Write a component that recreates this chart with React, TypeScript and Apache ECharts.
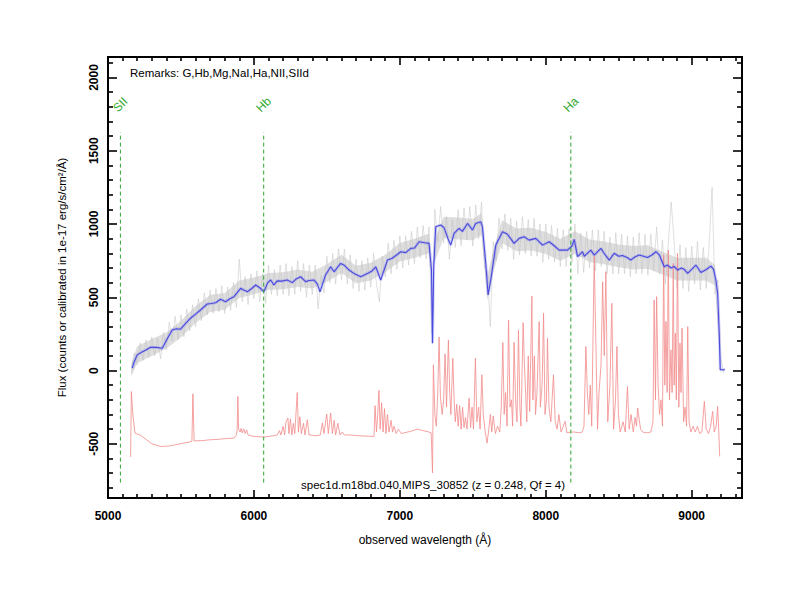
import React, { useEffect, useRef } from "react";
import * as echarts from "echarts";

const X_RANGE = [5000, 9345];
const Y_RANGE = [-870, 2140];
const xTickLabels = [5000, 6000, 7000, 8000, 9000];
const yTickLabels = [-500, 0, 500, 1000, 1500, 2000];

const lineMarkNames = ["SII", "Hb", "Ha"];
const lineMarkWaves = [5085, 6067, 8172];
const markLineSpan = [-765, 1626];
const markLabelFlux = 1815;

const remarks = "Remarks: G,Hb,Mg,NaI,Ha,NII,SIId";
const specTitle = "spec1d.m18bd.040.MIPS_30852 (z = 0.248, Qf = 4)";
const xName = "observed wavelength (Å)";
const yName = "Flux (counts or calibrated in 1e-17 erg/s/cm²/Å)";

// raw (noisy) spectrum, sampled every 20 Å from 5160 Å
const grayStart = 5160;
const grayStep = 20;
const grayFlux = [
  -20, 120, 40, 190, 70, 210, 90, 230, 100, 220,
  80, 260, 140, 330, 200, 370, 210, 380, 230, 420,
  270, 450, 300, 490, 340, 530, 380, 550, 390, 560,
  400, 580, 390, 570, 410, 600, 430, 760, 470, 640,
  450, 660, 490, 680, 470, 660, 460, 720, 520, 690,
  510, 720, 520, 730, 510, 710, 520, 750, 540, 730,
  500, 720, 520, 720, 420, 650, 530, 780, 600, 800,
  590, 830, 620, 830, 590, 790, 560, 760, 540, 750,
  550, 770, 570, 800, 590, 470, 780, 640, 870, 660,
  890, 690, 920, 700, 920, 720, 950, 730, 980, 770,
  990, 760, 980, 250, 1100, 880, 1120, 870, 1050, 760,
  1030, 840, 1100, 850, 1110, 890, 1120, 850, 1130, 900,
  1150, 700, 680, 300, 880, 750, 1040, 830, 1070, 820,
  1040, 760, 1020, 790, 1050, 800, 1030, 780, 1040, 780,
  1000, 740, 1000, 760, 990, 740, 970, 710, 960, 710,
  970, 740, 1000, 660, 940, 670, 950, 700, 960, 680,
  960, 710, 950, 660, 910, 660, 940, 660, 930, 660,
  920, 640, 910, 660, 940, 660, 930, 650, 930, 680,
  980, 660, 890, 590, 870, 1150, 880, 560, 860, 560,
  840, 540, 850, 590, 880, 550, 840, 560, 870, 1250,
  520, 620, 80, -20,
];

// dense core of the raw spectrum's noise band
const bandWave = [
  5160, 5200, 5300, 5400, 5500, 5600, 5700, 5800, 5900, 6000,
  6100, 6200, 6300, 6400, 6500, 6600, 6700, 6800, 6900, 7000,
  7100, 7200, 7215, 7224, 7235, 7300, 7400, 7500, 7560, 7600,
  7640, 7700, 7800, 7900, 8000, 8100, 8200, 8300, 8400, 8500,
  8600, 8700, 8800, 8900, 9000, 9100, 9160, 9200,
];
const bandLow = [
  -40, 50, 100, 150, 225, 325, 400, 415, 495, 520,
  550, 555, 570, 560, 605, 665, 595, 615, 670, 745,
  770, 800, 620, 120, 730, 905, 895, 890, 925, 480,
  670, 870, 815, 820, 795, 750, 795, 740, 725, 705,
  690, 695, 655, 615, 615, 615, 580, -30,
];
const bandHigh = [
  50, 165, 215, 260, 340, 440, 515, 530, 615, 635,
  665, 670, 690, 675, 725, 790, 715, 735, 790, 870,
  900, 935, 800, 300, 880, 1050, 1045, 1035, 1075, 650,
  820, 1025, 970, 975, 945, 900, 950, 895, 880, 860,
  850, 855, 810, 770, 770, 770, 720, 60,
];

// smoothed spectrum [wavelength, flux]
const blueSpec: [number, number][] = [
  [5166, 16], [5180, 60], [5200, 107], [5230, 125], [5260, 140], [5291, 159],
  [5330, 158], [5372, 152], [5405, 215], [5440, 277], [5470, 285], [5497, 282],
  [5530, 320], [5566, 357], [5600, 385], [5634, 413], [5680, 454], [5710, 458],
  [5737, 463], [5772, 486], [5806, 470], [5835, 490], [5863, 504], [5909, 561],
  [5930, 550], [5955, 538], [5985, 560], [6012, 584], [6040, 565], [6068, 538],
  [6095, 600], [6115, 618], [6137, 584], [6160, 612], [6190, 610], [6229, 618],
  [6263, 600], [6290, 625], [6320, 640], [6354, 607], [6380, 615], [6412, 618],
  [6435, 590], [6453, 538], [6490, 650], [6526, 708], [6549, 674], [6594, 731],
  [6620, 718], [6652, 686], [6690, 660], [6732, 640], [6778, 663], [6810, 680],
  [6835, 708], [6869, 618], [6915, 754], [6945, 765], [6980, 790], [7006, 811],
  [7040, 805], [7075, 834], [7100, 836], [7132, 879], [7170, 872], [7200, 868],
  [7217, 686], [7224, 187], [7232, 700], [7246, 981], [7280, 993], [7303, 975],
  [7330, 900], [7349, 856], [7372, 936], [7406, 970], [7429, 950], [7464, 1004],
  [7498, 959], [7520, 1004], [7555, 1015], [7566, 981], [7589, 731], [7605, 516],
  [7623, 618], [7658, 856], [7704, 947], [7738, 930], [7783, 868], [7818, 902],
  [7852, 913], [7886, 890], [7932, 902], [7978, 856], [8024, 879], [8060, 850],
  [8092, 822], [8149, 822], [8180, 850], [8195, 895], [8218, 777], [8252, 811],
  [8264, 780], [8309, 822], [8332, 788], [8378, 834], [8400, 800], [8435, 754],
  [8469, 800], [8500, 780], [8526, 785], [8560, 770], [8583, 754], [8610, 775],
  [8641, 788], [8670, 780], [8698, 772], [8730, 790], [8755, 811], [8778, 790],
  [8812, 708], [8835, 720], [8858, 700], [8880, 710], [8904, 686], [8930, 700],
  [8950, 690], [8972, 663], [9000, 690], [9029, 720], [9063, 669], [9100, 690],
  [9132, 713], [9150, 690], [9166, 618], [9178, 527], [9189, 255], [9196, 5],
  [9228, 5],
];

// sky / error spectrum [wavelength, flux]
const redSpec: [number, number][] = [
  [5155, -590], [5160, -143], [5170, -300], [5185, -427], [5220, -440], [5260, -470],
  [5300, -500], [5360, -518], [5420, -515], [5460, -507], [5520, -495], [5575, -484],
  [5582, -159], [5590, -480], [5650, -478], [5693, -473], [5750, -470], [5800, -465],
  [5863, -461], [5880, -440], [5885, -405], [5890, -177], [5895, -400], [5905, -420],
  [5912, -395], [5920, -425], [5930, -398], [5940, -430], [5950, -405], [5960, -440],
  [6000, -450], [6069, -454], [6137, -445], [6160, -440], [6175, -410], [6185, -440],
  [6200, -380], [6210, -440], [6220, -350], [6233, -324], [6240, -430], [6250, -330],
  [6260, -440], [6270, -360], [6280, -430], [6297, -150], [6305, -420], [6315, -315],
  [6325, -430], [6340, -360], [6350, -440], [6366, -336], [6378, -440], [6389, -440],
  [6420, -445], [6455, -440], [6469, -358], [6480, -430], [6499, -297], [6510, -430],
  [6526, -290], [6538, -430], [6550, -340], [6560, -440], [6575, -360], [6590, -440],
  [6605, -420], [6620, -440], [6663, -440], [6720, -445], [6780, -448], [6823, -450],
  [6830, -240], [6840, -420], [6848, -300], [6857, -136], [6865, -400], [6875, -220],
  [6885, -420], [6895, -260], [6905, -430], [6915, -300], [6926, -420], [6940, -340],
  [6950, -420], [6960, -380], [6975, -430], [6990, -400], [7010, -430], [7029, -425],
  [7075, -415], [7120, -400], [7160, -410], [7200, -420], [7215, -425], [7224, -699],
  [7230, 39], [7240, -300], [7250, -380], [7260, -150], [7269, 228], [7278, -177],
  [7290, -300], [7300, -200], [7310, 114], [7320, -250], [7333, 209], [7342, -152],
  [7350, -300], [7363, 84], [7372, -200], [7380, -350], [7390, -230], [7400, -380],
  [7410, -240], [7420, -400], [7430, -250], [7440, -390], [7450, -320], [7460, -400],
  [7475, -189], [7485, -390], [7495, -250], [7505, -400], [7518, 84], [7528, -350],
  [7540, -250], [7550, -400], [7562, -29], [7572, -300], [7585, -420], [7598, -495],
  [7610, -400], [7620, -300], [7630, -420], [7640, -310], [7655, -430], [7670, -380],
  [7685, -420], [7695, -250], [7706, 191], [7715, -300], [7725, -150], [7735, -380],
  [7745, 345], [7755, -250], [7765, -200], [7773, -380], [7783, 193], [7793, -200],
  [7803, -350], [7813, 277], [7823, -250], [7830, -380], [7845, 327], [7853, 66],
  [7860, -100], [7870, -350], [7880, 100], [7890, -280], [7905, 509], [7912, -200],
  [7922, 100], [7930, -300], [7940, -150], [7955, 334], [7963, -250], [7975, -100],
  [7985, 391], [7995, -300], [8005, -200], [8012, 220], [8022, -250], [8035, -350],
  [8053, -29], [8065, -350], [8078, -400], [8090, -300], [8105, -420], [8120, -380],
  [8133, -347], [8145, -425], [8170, -420], [8200, -420], [8230, -425], [8250, -420],
  [8262, -380], [8275, 164], [8285, -150], [8295, -300], [8305, -100], [8315, -380],
  [8332, 780], [8344, 164], [8355, -400], [8365, -150], [8379, 39], [8390, 606],
  [8401, 103], [8412, 675], [8425, -350], [8440, -100], [8453, 459], [8465, -400],
  [8478, -200], [8488, 164], [8498, -300], [8510, -420], [8530, -350], [8545, -420],
  [8560, -109], [8572, -400], [8585, -300], [8600, -420], [8612, -320], [8622, -380],
  [8630, -256], [8640, -330], [8650, -400], [8665, -420], [8690, -425], [8720, -420],
  [8735, -350], [8743, 482], [8752, -200], [8760, 505], [8770, -100], [8780, -300],
  [8790, -200], [8800, -380], [8808, 790], [8816, -100], [8824, 334], [8832, -150],
  [8840, 822], [8848, -200], [8858, 141], [8866, -150], [8874, 731], [8880, -100],
  [8888, 255], [8895, -200], [8903, 800], [8912, -250], [8920, 187], [8927, -150],
  [8934, 289], [8945, -350], [8955, -250], [8965, -380], [8973, 300], [8982, -350],
  [8995, -420], [9010, -380], [9025, -420], [9040, -380], [9055, -430], [9070, -420],
  [9087, -211], [9100, -400], [9115, -430], [9130, -380], [9144, -279], [9155, -420],
  [9168, -380], [9178, -245], [9186, -420], [9192, -586],
];

const FONT = '"Liberation Sans", Arial, Helvetica, sans-serif';
const GREEN = "#2ea82e";

function minorTicks(from: number, to: number, step: number, skip: number) {
  const out: number[] = [];
  for (let v = from; v <= to; v += step) if (v % skip !== 0) out.push(v);
  return out;
}

const plainNumber = (v: number) => String(v);

function makeX(position: string, ticks: number[], len: number, withLabel: boolean) {
  return {
    type: "value",
    min: X_RANGE[0],
    max: X_RANGE[1],
    position,
    axisLine: { show: false, onZero: false },
    splitLine: { show: false },
    axisTick: {
      show: true,
      inside: true,
      length: len,
      customValues: ticks,
      lineStyle: { color: "#000", width: 1.6 },
    },
    axisLabel: withLabel
      ? {
          show: true,
          customValues: ticks,
          formatter: plainNumber,
          fontFamily: FONT,
          fontWeight: "bold",
          fontSize: 12,
          color: "#000",
          margin: 12,
        }
      : { show: false },
    ...(withLabel
      ? {
          name: xName,
          nameLocation: "middle",
          nameGap: 36,
          nameTextStyle: { fontFamily: FONT, fontSize: 12, color: "#000" },
        }
      : {}),
  };
}

function makeY(position: string, ticks: number[], len: number, withLabel: boolean) {
  return {
    type: "value",
    min: Y_RANGE[0],
    max: Y_RANGE[1],
    position,
    axisLine: { show: false, onZero: false },
    splitLine: { show: false },
    axisTick: {
      show: true,
      inside: true,
      length: len,
      customValues: ticks,
      lineStyle: { color: "#000", width: 1.6 },
    },
    axisLabel: withLabel
      ? {
          show: true,
          customValues: ticks,
          formatter: plainNumber,
          rotate: 90,
          fontFamily: FONT,
          fontWeight: "bold",
          fontSize: 12,
          color: "#000",
          margin: 8,
        }
      : { show: false },
    ...(withLabel
      ? {
          name: yName,
          nameLocation: "middle",
          nameGap: 40,
          nameRotate: 90,
          nameTextStyle: { fontFamily: FONT, fontSize: 11.5, color: "#000" },
        }
      : {}),
  };
}

export default function App() {
  const ref = useRef<HTMLDivElement>(null);

  useEffect(() => {
    if (!ref.current) return;
    const chart = echarts.init(ref.current, null, { renderer: "svg" });
    const xMinor = minorTicks(5100, 9300, 100, 1000);
    const yMinor = minorTicks(-800, 2100, 100, 500);

    const markSeries = lineMarkWaves.map((w) => ({
      type: "line",
      data: [
        [w, markLineSpan[0]],
        [w, markLineSpan[1]],
      ],
      symbol: "none",
      silent: true,
      lineStyle: { color: GREEN, width: 1, type: [4, 3] },
      z: 5,
    }));

    chart.setOption({
      animation: false,
      backgroundColor: "#fff",
      grid: {
        left: 108,
        right: 58,
        top: 57,
        bottom: 102,
        show: true,
        borderColor: "#000",
        borderWidth: 2,
        backgroundColor: "transparent",
      },
      xAxis: [
        makeX("bottom", xTickLabels, 8, true),
        makeX("bottom", xMinor, 4, false),
        makeX("top", xTickLabels, 8, false),
        makeX("top", xMinor, 4, false),
      ],
      yAxis: [
        makeY("left", yTickLabels, 9, true),
        makeY("left", yMinor, 5, false),
        makeY("right", yTickLabels, 9, false),
        makeY("right", yMinor, 5, false),
      ],
      series: [
        {
          type: "line",
          data: grayFlux.map((f, i) => [grayStart + i * grayStep, f]),
          symbol: "none",
          silent: true,
          lineStyle: { color: "#c2c2c2", width: 0.6, opacity: 0.85 },
          z: 1,
        },
        {
          type: "custom",
          silent: true,
          z: 1,
          data: [[bandWave[0], bandLow[0]]],
          renderItem: (_params: any, api: any) => {
            const upper = bandWave.map((w, i) => api.coord([w, bandHigh[i]]));
            const lower = bandWave.map((w, i) => api.coord([w, bandLow[i]])).reverse();
            return {
              type: "polygon",
              shape: { points: upper.concat(lower) },
              style: { fill: "#c8c8c8", opacity: 0.6 },
            };
          },
        },
        {
          type: "line",
          data: redSpec,
          symbol: "none",
          silent: true,
          lineStyle: { color: "#f28a8a", width: 0.8 },
          z: 2,
        },
        {
          type: "line",
          data: blueSpec,
          symbol: "none",
          silent: true,
          lineStyle: { color: "#7878f0", width: 3, opacity: 0.3 },
          z: 3,
        },
        {
          type: "line",
          data: blueSpec,
          symbol: "none",
          silent: true,
          lineStyle: { color: "#4a4ade", width: 1.1 },
          z: 4,
        },
        ...markSeries,
      ],
      graphic: [
        {
          id: "remarks",
          type: "text",
          left: 130,
          top: 67,
          style: { text: remarks, font: `11.5px ${FONT}`, fill: "#000" },
        },
        {
          id: "spec",
          type: "text",
          x: 433,
          y: 485,
          style: {
            text: specTitle,
            font: `11.5px ${FONT}`,
            fill: "#000",
            align: "center",
            verticalAlign: "middle",
          },
        },
      ],
    });

    const markLabels = lineMarkWaves.map((w, i) => {
      const p = chart.convertToPixel({ xAxisIndex: 0, yAxisIndex: 0 }, [w, markLabelFlux]) as number[];
      return {
        id: "mark" + i,
        type: "text",
        x: p[0],
        y: p[1],
        rotation: Math.PI / 4,
        z: 10,
        style: {
          text: lineMarkNames[i],
          font: `12px ${FONT}`,
          fill: GREEN,
          align: "center",
          verticalAlign: "middle",
        },
      };
    });
    chart.setOption({ graphic: markLabels });

    return () => chart.dispose();
  }, []);

  return (
    <div
      ref={ref}
      style={{ position: "absolute", left: 0, top: 0, width: 800, height: 600, background: "#fff" }}
    />
  );
}
